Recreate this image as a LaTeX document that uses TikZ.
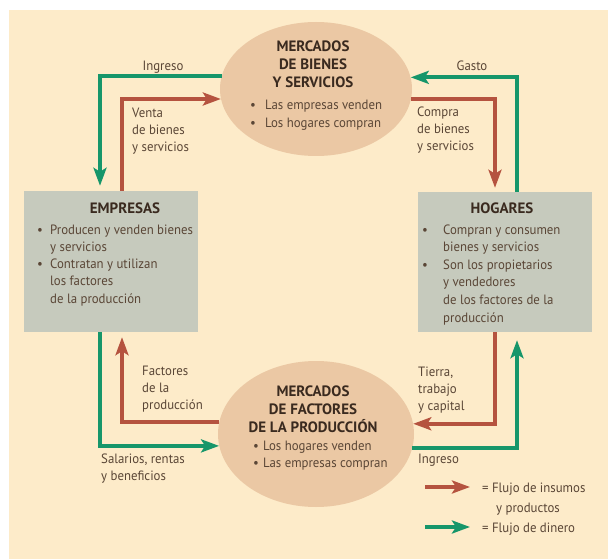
\documentclass[tikz,border=0pt]{standalone}
\usepackage{fontspec}
\setmainfont{PT Sans}[FakeStretch=0.95]
\newfontfamily\ttlfont{PT Sans}
\usetikzlibrary{shapes.geometric,arrows.meta}
\definecolor{bgc}{HTML}{FDEBC9}
\definecolor{ellc}{HTML}{EBC8A4}
\definecolor{boxc}{HTML}{C6CABD}
\definecolor{redc}{HTML}{B5533F}
\definecolor{grnc}{HTML}{16966A}
\definecolor{txtc}{HTML}{5A4636}
\definecolor{ttlc}{HTML}{3A2A1F}
\newcommand{\bu}[1]{\makebox[#1][l]{\textbullet}}
\tikzset{
  flow/.style={line width=4pt},
  tipA/.style={-{Stealth[length=18pt,width=13pt,inset=4pt]}},
  redflow/.style={flow, draw=redc, tipA},
  grnflow/.style={flow, draw=grnc, tipA},
  lbl/.style={inner sep=0, align=left, font=\fontsize{13.5}{17}\selectfont, text=txtc},
  ttl/.style={inner sep=0, align=center, font=\ttlfont\fontsize{15}{18}\selectfont\bfseries, text=ttlc},
  market/.style={ellipse, fill=ellc, inner sep=0},
  agent/.style={rectangle, fill=boxc, inner sep=0},
}
\begin{document}
\begin{tikzpicture}[x=1pt,y=-1pt]
\useasboundingbox (0,0) rectangle (608,559);
\fill[bgc] (9,10) rectangle (608,559);

% markets and agents
\node[market, minimum width=192pt, minimum height=134pt] (topE) at (316,89) {};
\node[market, minimum width=196pt, minimum height=146pt] (botE) at (316,434) {};
\node[agent, minimum width=174pt, minimum height=141pt] (emp) at (111,261.5) {};
\node[agent, minimum width=174pt, minimum height=140pt] (hog) at (505,262) {};

% texts in markets (base anchor = baseline of last line)
\node[ttl, anchor=base] (topT) at (313,88) {MERCADOS\\DE BIENES\\Y SERVICIOS};
\node[lbl, anchor=base west, font=\fontsize{13.5}{18}\selectfont] (topL) at (250,128) {\bu{15pt}Las empresas venden\\\bu{15pt}Los hogares compran};
\node[ttl, anchor=base] (botT) at (313,432) {MERCADOS\\DE FACTORES\\DE LA PRODUCCIÓN};
\node[lbl, anchor=base west] (botL) at (253,467) {\bu{10pt}Los hogares venden\\\bu{10pt}Las empresas compran};

% texts in agents
\node[ttl, anchor=base] (empT) at (125,213) {EMPRESAS};
\node[lbl, anchor=base west, font=\fontsize{13.5}{17.3}\selectfont] (empL) at (37,303.2) {\bu{13pt}Producen y venden bienes\\\hspace*{13pt}y servicios\\\bu{13pt}Contratan y utilizan\\\hspace*{13pt}los factores\\\hspace*{13pt}de la producción};
\node[ttl, anchor=base] (hogT) at (502,213) {HOGARES};
\node[lbl, anchor=base west, font=\fontsize{13.5}{17.6}\selectfont] (hogL) at (422,322) {\bu{21pt}Compran y consumen\\\hspace*{21pt}bienes y servicios\\\bu{21pt}Son los propietarios\\\hspace*{21pt}y vendedores\\\hspace*{21pt}de los factores de la\\\hspace*{21pt}producción};

% flows
\draw[grnflow, shorten >=5pt] (topE.172.8) -| ([xshift=-11pt]emp.north);
\draw[redflow] ([xshift=11pt]emp.north) |- (topE.186);
\draw[grnflow] ([xshift=12pt]hog.north) |- (topE.7.2);
\draw[redflow, shorten >=4pt] (topE.354) -| ([xshift=-10pt]hog.north);
\draw[redflow] ([xshift=-10pt]hog.south) |- (botE.6.5);
\draw[grnflow, shorten >=8pt] (botE.352.9) -| ([xshift=12pt]hog.south);
\draw[grnflow] ([xshift=-11pt]emp.south) |- (botE.187.1);
\draw[redflow, shorten >=5pt] (botE.173.5) -| ([xshift=11pt]emp.south);

% flow labels
\node[lbl, anchor=base] (l1) at (163,71) {Ingreso};
\node[lbl, anchor=base west] (l2) at (132,152) {Venta\\de bienes\\y servicios};
\node[lbl, anchor=base] (l3) at (472,71) {Gasto};
\node[lbl, anchor=base west] (l4) at (417,151) {Compra\\de bienes\\y servicios};
\node[lbl, anchor=base west] (l5) at (142,409) {Factores\\de la\\producción};
\node[lbl, anchor=base west] (l6) at (101,480) {Salarios, rentas\\y beneficios};
\node[lbl, anchor=base west] (l7) at (418,410) {Tierra,\\trabajo\\y capital};
\node[lbl, anchor=base west] (l8) at (418,463) {Ingreso};

% legend
\coordinate (r1) at (425,487);
\coordinate (r2) at (470,487);
\coordinate (g1) at (425,527);
\coordinate (g2) at (470,527);
\draw[redflow] (r1) -- (r2);
\draw[grnflow] (g1) -- (g2);
\node[lbl, anchor=base west, font=\fontsize{13.5}{20}\selectfont] (lg1) at (482,512) {= Flujo de insumos\\\hspace*{14pt}y productos};
\node[lbl, anchor=base west] (lg2) at (482,532) {= Flujo de dinero};
\end{tikzpicture}
\end{document}
